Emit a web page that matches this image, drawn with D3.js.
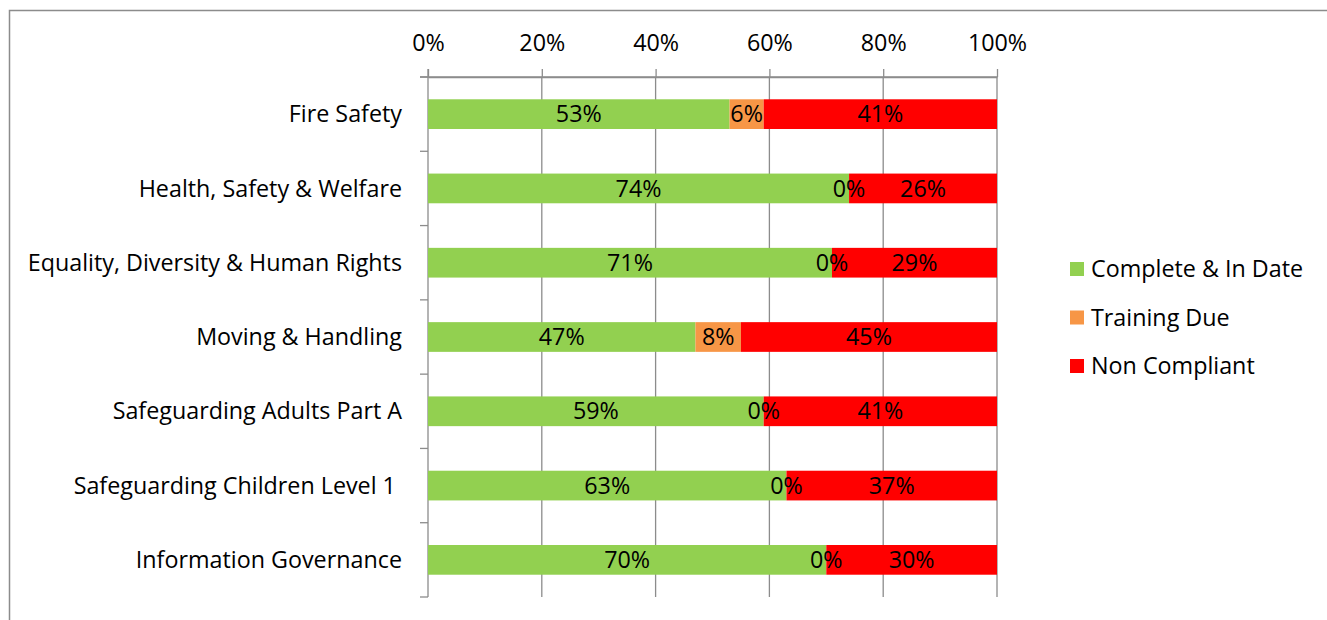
<!DOCTYPE html>
<html><head><meta charset="utf-8">
<script src="https://cdn.jsdelivr.net/npm/d3@7"></script>
<style>body{margin:0;background:#fff}text{font-family:"Open Sans",Lato,sans-serif}</style>
</head><body><svg id="c" width="1327" height="620"></svg>
<script>
const categories = ["Fire Safety","Health, Safety & Welfare","Equality, Diversity & Human Rights","Moving & Handling","Safeguarding Adults Part A","Safeguarding Children Level 1 ","Information Governance"];
const seriesNames = ["Complete & In Date","Training Due","Non Compliant"];
const complete = [53,74,71,47,59,63,70];
const trainingDue = [6,0,0,8,0,0,0];
const nonCompliant = [41,26,29,45,41,37,30];
const tickValues = [0,20,40,60,80,100];
const colors = ["#92D050","#F79646","#FF0000"];

const svg = d3.select("#c");
const FS = 23.3;
const FF = '"Open Sans",Lato,sans-serif';
// outer border
svg.append("path").attr("d","M9.5,620 V10.5 H1327").attr("fill","none").attr("stroke","#8c8c8c").attr("stroke-width",1.5);

const x = d3.scaleLinear().domain([0,100]).range([428,997]);
const y = d3.scaleBand().domain(categories).range([77,597]).paddingInner(0.6).paddingOuter(0.3);
const bandY = d3.scaleBand().domain(categories).range([77,597]);

const grid = "#8c8c8c";
// gridlines
svg.append("g").selectAll("line").data(tickValues.slice(1)).join("line")
  .attr("x1",d=>x(d)).attr("x2",d=>x(d)).attr("y1",77).attr("y2",597)
  .attr("stroke",grid).attr("stroke-width",1.3);

// top axis
const xAxis = d3.axisTop(x).tickValues(tickValues).tickFormat(d=>d+"%").tickSize(8).tickSizeOuter(0);
const gx = svg.append("g").attr("transform","translate(0,77)").call(xAxis);
gx.select(".domain").attr("stroke",grid).attr("stroke-width",1.3);
gx.selectAll(".tick line").attr("stroke",grid).attr("stroke-width",1.3);
gx.selectAll(".tick text").attr("font-size",FS).attr("fill","#000").attr("font-family",FF).attr("y",-26);

// left axis
svg.append("line").attr("x1",x(0)).attr("x2",x(0)).attr("y1",69).attr("y2",597).attr("stroke",grid).attr("stroke-width",1.3);
const bounds = categories.map(c=>bandY(c)).concat([597]);
svg.append("g").selectAll("line").data(bounds).join("line")
  .attr("x1",420).attr("x2",x(0)).attr("y1",d=>d).attr("y2",d=>d).attr("stroke",grid).attr("stroke-width",1.3);
svg.append("line").attr("x1",420).attr("x2",x(100)).attr("y1",77).attr("y2",77).attr("stroke",grid).attr("stroke-width",1.3);

svg.append("g").selectAll("text").data(categories).join("text")
  .attr("x",402).attr("y",d=>bandY(d)+bandY.bandwidth()/2).attr("dy","0.35em")
  .attr("text-anchor","end").attr("font-size",FS).style("white-space","pre").text(d=>d);

// stacked bars
const rows = categories.map((c,i)=>({cat:c, v:[complete[i],trainingDue[i],nonCompliant[i]]}));
const segs = [];
rows.forEach(r=>{let acc=0; r.v.forEach((v,j)=>{segs.push({cat:r.cat,j,v,x0:acc,x1:acc+v}); acc+=v;});});
svg.append("g").selectAll("rect").data(segs.filter(s=>s.v>0)).join("rect")
  .attr("x",s=>x(s.x0)).attr("width",s=>x(s.x1)-x(s.x0))
  .attr("y",s=>y(s.cat)).attr("height",y.bandwidth()).attr("fill",s=>colors[s.j]);
svg.append("g").selectAll("text").data(segs).join("text")
  .attr("x",s=>(x(s.x0)+x(s.x1))/2).attr("y",s=>y(s.cat)+y.bandwidth()/2).attr("dy","0.35em")
  .attr("text-anchor","middle").attr("font-size",FS).text(s=>s.v+"%");

// legend
const lg = svg.append("g").selectAll("g").data(seriesNames).join("g")
  .attr("transform",(d,i)=>`translate(1070,${269+i*48.5})`);
lg.append("rect").attr("x",0).attr("y",-7).attr("width",14).attr("height",14).attr("fill",(d,i)=>colors[i]);
lg.append("text").attr("x",21).attr("dy","0.35em").attr("font-size",FS).text(d=>d);
</script></body></html>
